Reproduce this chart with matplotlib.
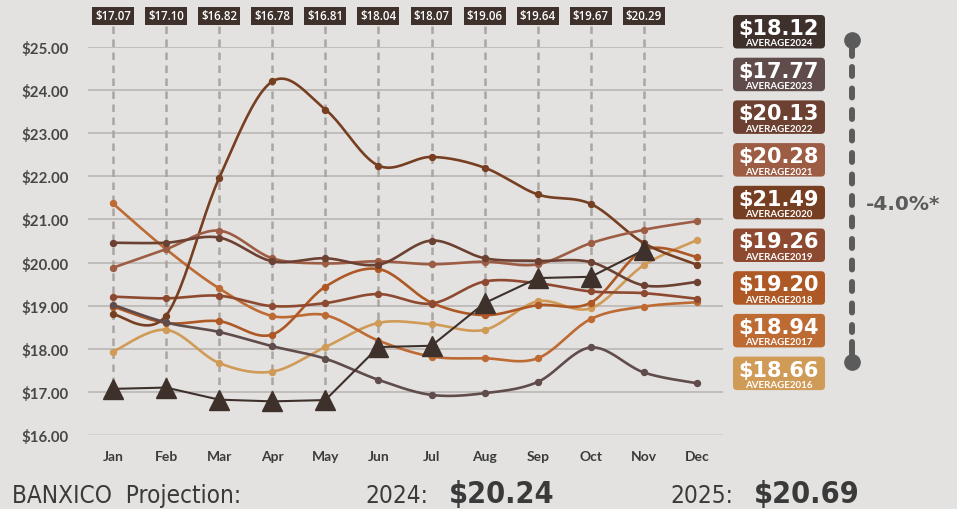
import matplotlib
matplotlib.use("Agg")
import matplotlib.pyplot as plt
import matplotlib.font_manager as fm
from matplotlib.patches import FancyBboxPatch
from matplotlib.transforms import blended_transform_factory
import numpy as np

# ---- data -------------------------------------------------------------
months = ["Jan", "Feb", "Mar", "Apr", "May", "Jun",
          "Jul", "Aug", "Sep", "Oct", "Nov", "Dec"]

rate_2024 = [17.07, 17.10, 16.82, 16.78, 16.81, 18.04, 18.07, 19.06, 19.64, 19.67, 20.29]
rate_2023 = [19.02, 18.61, 18.39, 18.06, 17.77, 17.28, 16.93, 16.97, 17.23, 18.03, 17.45, 17.20]
rate_2022 = [20.46, 20.46, 20.58, 20.03, 20.10, 19.95, 20.51, 20.10, 20.04, 20.01, 19.47, 19.55]
rate_2021 = [19.88, 20.31, 20.74, 20.10, 19.98, 20.03, 19.96, 20.02, 19.96, 20.45, 20.76, 20.96]
rate_2020 = [18.80, 18.77, 21.96, 24.20, 23.55, 22.25, 22.45, 22.20, 21.58, 21.36, 20.45, 19.95]
rate_2019 = [19.21, 19.17, 19.23, 18.99, 19.06, 19.27, 19.05, 19.56, 19.52, 19.33, 19.29, 19.16]
rate_2018 = [18.98, 18.60, 18.64, 18.33, 19.44, 19.85, 19.07, 18.78, 19.01, 19.07, 20.29, 20.13]
rate_2017 = [21.37, 20.31, 19.40, 18.76, 18.78, 18.19, 17.82, 17.78, 17.78, 18.69, 18.98, 19.08]
rate_2016 = [17.93, 18.44, 17.67, 17.47, 18.04, 18.60, 18.57, 18.44, 19.10, 18.94, 19.94, 20.52]

years = ["2024", "2023", "2022", "2021", "2020", "2019", "2018", "2017", "2016"]
yearly_averages = [18.12, 17.77, 20.13, 20.28, 21.49, 19.26, 19.20, 18.94, 18.66]
year_colors = ["#3e312c", "#5f4c4b", "#6c4131", "#9d5d44", "#773f22",
               "#8e4a30", "#ad5825", "#bd6a33", "#d09a57"]

y_ticks = [16, 17, 18, 19, 20, 21, 22, 23, 24, 25]
change_label = "-4.0%*"
projection_2024 = 20.24
projection_2025 = 20.69

# ---- style ------------------------------------------------------------
BG = "#e3e2e0"
GRID = "#b9b6b3"
DROP = "#a9a5a2"
TEXT = "#474747"

names = {f.name for f in fm.fontManager.ttflist}
base_font = "Lato" if "Lato" in names else "DejaVu Sans"
label_font = "Open Sans" if "Open Sans" in names else base_font
if "Liberation Sans Narrow" in names:
    narrow_font, narrow_stretch = "Liberation Sans Narrow", "normal"
else:
    narrow_font, narrow_stretch = "DejaVu Sans", "condensed"

plt.rcParams["font.family"] = [base_font, "DejaVu Sans"]


def catmull_rom(xs, ys, steps=24):
    """Smooth curve through every point (uniform Catmull-Rom)."""
    p = np.column_stack([xs, ys]).astype(float)
    p = np.vstack([p[0], p, p[-1]])
    t = np.linspace(0, 1, steps)[:, None]
    out = []
    for i in range(1, len(p) - 2):
        p0, p1, p2, p3 = p[i - 1], p[i], p[i + 1], p[i + 2]
        seg = 0.5 * (2 * p1 + (-p0 + p2) * t
                     + (2 * p0 - 5 * p1 + 4 * p2 - p3) * t ** 2
                     + (-p0 + 3 * p1 - 3 * p2 + p3) * t ** 3)
        out.append(seg if i == 1 else seg[1:])
    out = np.vstack(out)
    return out[:, 0], out[:, 1]


fig = plt.figure(figsize=(9.57, 5.10), dpi=100, facecolor=BG)
ax = fig.add_axes([88 / 957, 74 / 510, 635 / 957, 388 / 510])
ax.set_facecolor(BG)
ax.set_xlim(-0.47, 11.49)
ax.set_ylim(16, 25)
for s in ax.spines.values():
    s.set_visible(False)

ax.set_yticks(y_ticks)
ax.set_yticklabels([f"${v:.2f}" for v in y_ticks])
ax.set_xticks(range(len(months)))
ax.set_xticklabels(months)
ax.tick_params(axis="y", length=0, pad=14, labelsize=10.8, labelcolor=TEXT)
ax.tick_params(axis="x", length=0, pad=11, labelsize=10, labelcolor="#3b3b3b")
for lab in ax.get_yticklabels() + ax.get_xticklabels():
    lab.set_fontweight("bold")
ax.grid(axis="y", color=GRID, lw=1.2)
ax.set_axisbelow(True)
ax.get_ygridlines()[0].set_alpha(0.45)

x_all = np.arange(len(months))
series = [rate_2023, rate_2022, rate_2021, rate_2020,
          rate_2019, rate_2018, rate_2017, rate_2016]

# drop lines from the monthly labels down to the 2024 points
blend = blended_transform_factory(ax.transData, ax.transAxes)
top = ax.transData.inverted().transform(ax.transAxes.transform((0, 1.054)))[1]
for i, v in enumerate(rate_2024):
    ax.plot([i, i], [top, v], color=DROP, lw=1.8, ls=(0, (3.0, 2.2)),
            zorder=1, clip_on=False)
    ax.text(i, 1.080, f"${v:.2f}", transform=blend, ha="center", va="center",
            fontsize=8.3, color="white", fontweight="semibold", family=label_font,
            bbox=dict(boxstyle="square,pad=0.25", fc="#3e312c", ec="none"))

# historical years: smooth lines with small dots
for vals, col in zip(series[::-1], year_colors[1:][::-1]):
    sx, sy = catmull_rom(x_all, vals)
    ax.plot(sx, sy, color=col, lw=1.9, zorder=3, solid_capstyle="round")
    ax.plot(x_all, vals, "o", color=col, ms=4.3, zorder=3)

# 2024: straight segments with triangle markers
x24 = np.arange(len(rate_2024))
ax.plot(x24, rate_2024, color=year_colors[0], lw=1.5, zorder=5)
ax.plot(x24, rate_2024, "^", color=year_colors[0], ms=14, zorder=6)

# ---- overlay in pixel units for the side panel and footer --------------
ov = fig.add_axes([0, 0, 1, 1], zorder=10)
ov.set_xlim(0, 957)
ov.set_ylim(510, 0)
ov.axis("off")

for k, (yr, avg, col) in enumerate(zip(years, yearly_averages, year_colors)):
    y0 = 16 + 42.7 * k
    ov.add_patch(FancyBboxPatch((733, y0), 92, 33.5,
                                boxstyle="round,pad=0,rounding_size=4",
                                fc=col, ec="none"))
    ov.text(779, y0 + 13, f"${avg:.2f}", ha="center", va="center",
            fontsize=15, fontweight="bold", color="white", family="DejaVu Sans")
    ov.text(779, y0 + 28, f"AVERAGE{yr}", ha="center", va="center",
            fontsize=7, fontweight="bold", color="white")

bar_col = "#5b5b5b"
ov.plot([852, 852], [41, 57], color=bar_col, lw=4.3, solid_capstyle="round")
ov.plot([852, 852], [343, 363], color=bar_col, lw=4.3, solid_capstyle="round")
ov.plot([852, 852], [68, 333], color=bar_col, lw=4.3,
        ls=(0, (1.5, 2.1)), dash_capstyle="round")
ov.plot([852, 852], [41, 363], "o", color=bar_col, ms=11)
ov.text(866, 205, change_label, ha="left", va="center", fontsize=14.5,
        fontweight="bold", color=bar_col, family="DejaVu Sans")

foot = dict(family=[narrow_font, "DejaVu Sans"], fontstretch=narrow_stretch,
            color="#3a3a3a", va="baseline")
ov.text(12, 503, "BANXICO  Projection:", fontsize=17.5, **foot)
ov.text(365, 503, "2024:", fontsize=17.5, **foot)
ov.text(449, 503, f"${projection_2024:.2f}", fontsize=22, fontweight="bold", **foot)
ov.text(670, 503, "2025:", fontsize=17.5, **foot)
ov.text(754, 503, f"${projection_2025:.2f}", fontsize=22, fontweight="bold", **foot)

fig.savefig("out.png", dpi=100, facecolor=BG)
